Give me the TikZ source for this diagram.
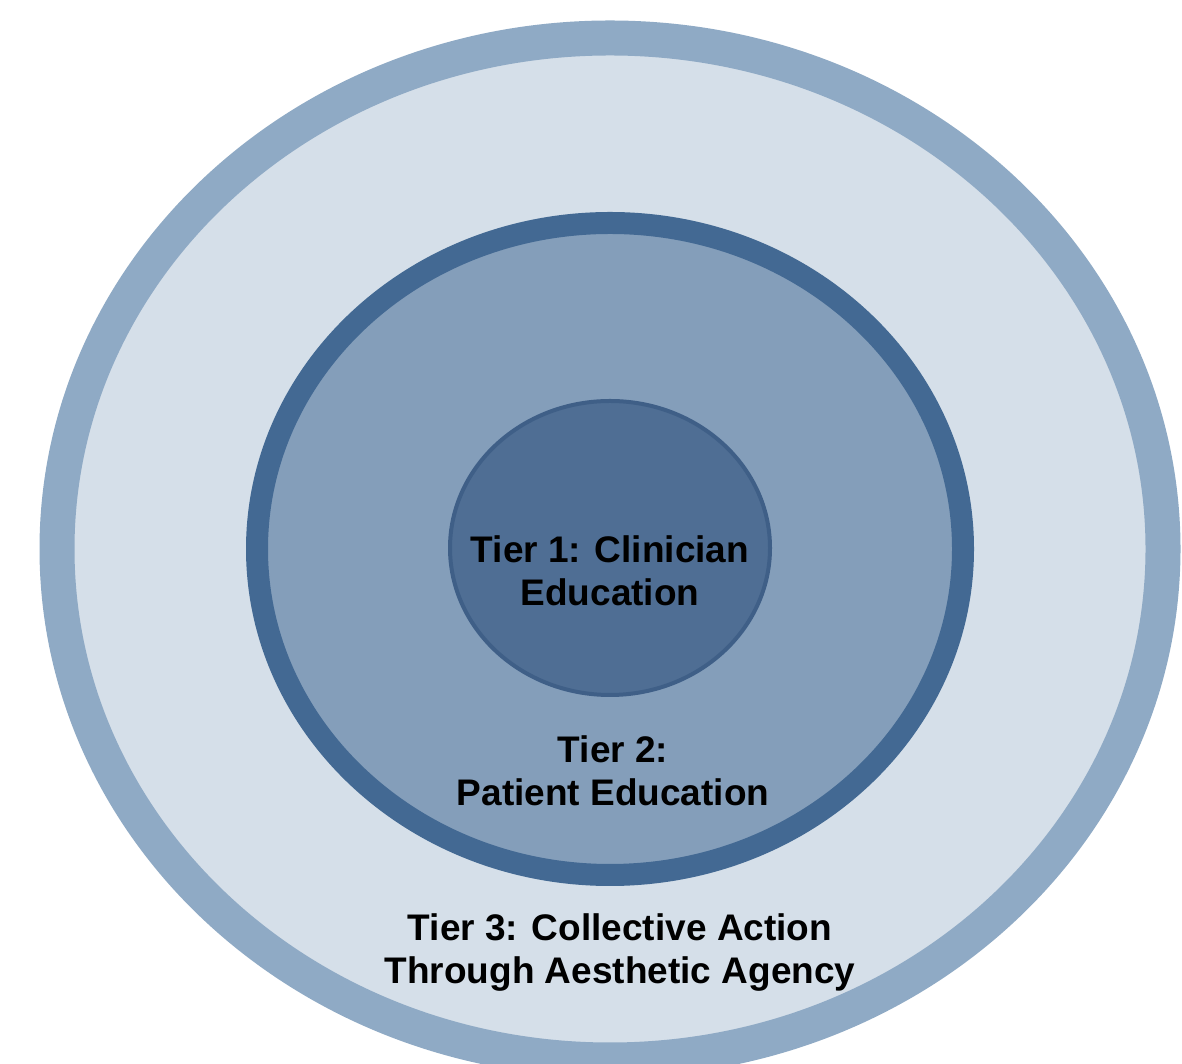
\documentclass[tikz,border=0pt]{standalone}
\usepackage{fontspec}
\setmainfont{Liberation Sans}
\usetikzlibrary{shapes.geometric}
\definecolor{cring}{HTML}{8FAAC5}
\definecolor{cpale}{HTML}{D5DFE9}
\definecolor{cmidring}{HTML}{436993}
\definecolor{cmid}{HTML}{849EBA}
\definecolor{ccore}{HTML}{4F6E94}
\definecolor{ccoreline}{HTML}{3F5F87}
\tikzset{
  tier/.style={ellipse, draw=#1, inner sep=0pt, outer sep=0pt},
  label/.style={font=\bfseries\fontsize{37}{43}\selectfont, align=center, text=black},
}

\begin{document}
\begin{tikzpicture}[x=1pt, y=1pt]
  \useasboundingbox (0,0) rectangle (1182,1064);
  \clip (0,0) rectangle (1182,1064);

  % rings, outside in
  \node[tier=cring, fill=cpale, line width=35pt, minimum width=1106pt, minimum height=1022pt] (outer) at (610,515) {};
  \node[tier=cmidring, fill=cmid, line width=22pt, minimum width=706pt, minimum height=652pt] (middle) at (610,515) {};
  \node[tier=ccoreline, fill=ccore, line width=4pt, minimum width=320pt, minimum height=294pt] (inner) at (610,516) {};

  % names of the tiers
  \node[label] (t1) at (610,493) {Tier 1: Clinician\\Education};
  \node[label] (t2) at (613,293) {Tier 2:\\Patient Education};
  \node[label] (t3) at (620,111) {Tier 3: Collective Action\\Through Aesthetic Agency};
\end{tikzpicture}
\end{document}
